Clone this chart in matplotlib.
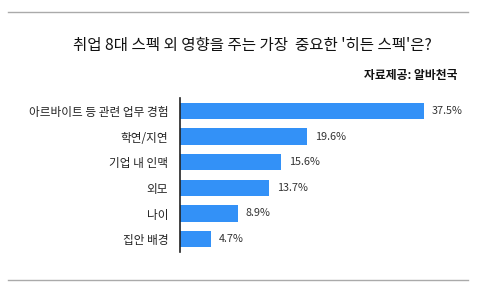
import matplotlib
matplotlib.use('Agg')
from matplotlib import pyplot as plt
from matplotlib.lines import Line2D

plt.rcParams['font.family'] = ['Noto Sans CJK KR', 'DejaVu Sans']

categories = ['아르바이트 등 관련 업무 경험', '학연/지연', '기업 내 인맥', '외모', '나이', '집안 배경']
values = [37.5, 19.6, 15.6, 13.7, 8.9, 4.7]
value_labels = ['37.5%', '19.6%', '15.6%', '13.7%', '8.9%', '4.7%']
title = "취업 8대 스펙 외 영향을 주는 가장  중요한 '히든 스펙'은?"
source = '자료제공: 알바천국'

W, H = 480, 293
fig = plt.figure(figsize=(W / 100, H / 100), dpi=100)
fig.patch.set_facecolor('white')

# axes placed in pixel terms
ax = fig.add_axes([180 / W, 1 - 252 / H, 280 / W, 154 / H])
ypos = list(range(len(categories)))
ax.barh(ypos, values, height=0.63, color='#3391f7')
ax.set_ylim(len(categories) - 0.5, -0.5)
ax.set_xlim(0, 280 / 6.5)

for y, v, lab in zip(ypos, values, value_labels):
    ax.text(v + 1.2, y, lab, va='center', ha='left', fontsize=7.8, color='#333333')

ax.set_yticks(ypos)
ax.set_yticklabels(categories, fontsize=8.4, color='#222222')
ax.tick_params(axis='y', length=0, pad=8.5)
ax.set_xticks([])
for s in ['top', 'right', 'bottom']:
    ax.spines[s].set_visible(False)
ax.spines['left'].set_color('#222222')
ax.spines['left'].set_linewidth(1.2)

fig.text(252 / W, 1 - 45 / H, title, ha='center', va='center', fontsize=11.2, color='#111111')
fig.text(457 / W, 1 - 76 / H, source, ha='right', va='center', fontsize=8.5, fontweight='bold', color='#111111')

fig.add_artist(Line2D([8 / W, 468 / W], [1 - 12 / H, 1 - 12 / H], color='#aaaaaa', lw=1))
fig.add_artist(Line2D([8 / W, 468 / W], [1 - 280 / H, 1 - 280 / H], color='#aaaaaa', lw=1))

fig.savefig('out.png', dpi=100)
